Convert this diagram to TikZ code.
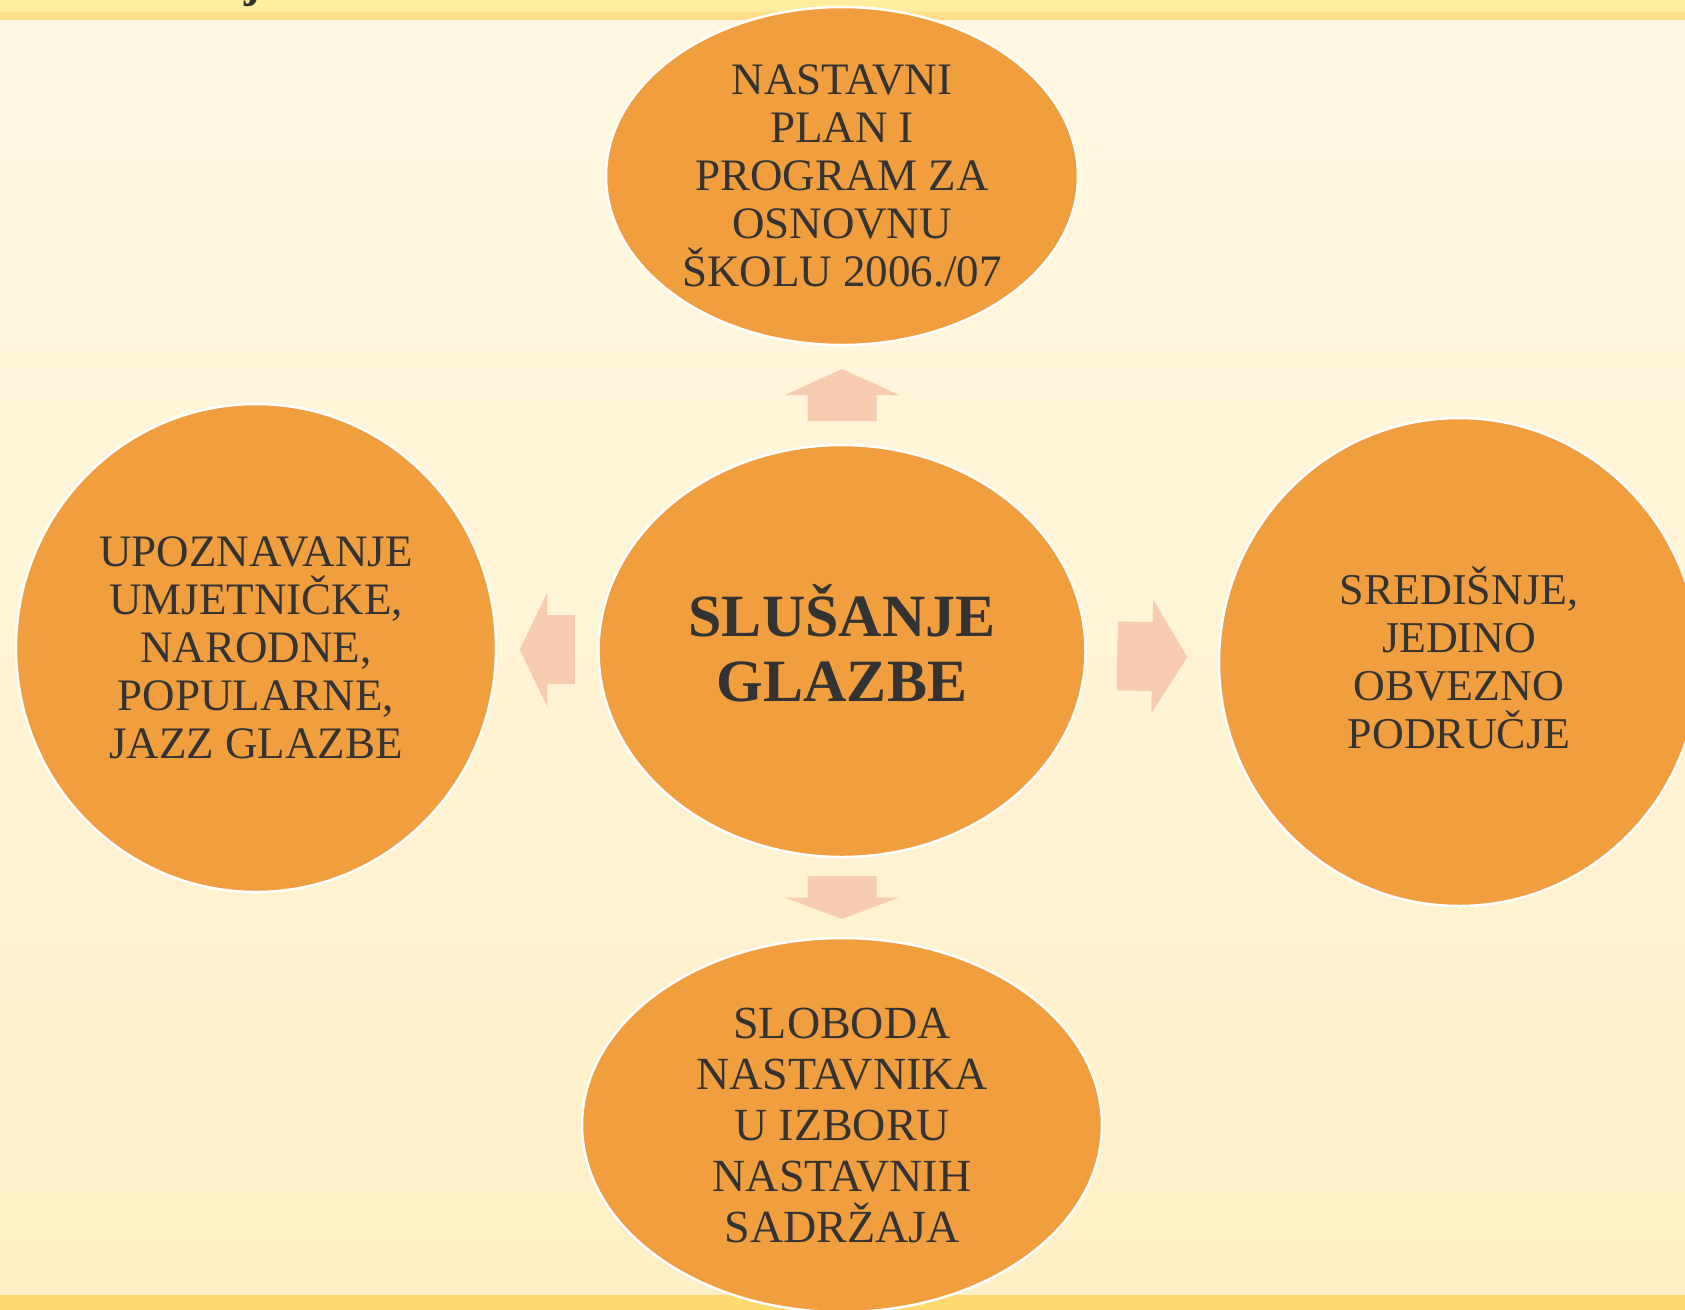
\documentclass[tikz,border=0pt]{standalone}
\usepackage{fontspec}
\setmainfont{Liberation Serif}
\usetikzlibrary{shapes.geometric, calc}
\definecolor{kugla}{HTML}{F19E3E}
\definecolor{strelica}{HTML}{F7CCAF}
\definecolor{tekst}{HTML}{333333}
\definecolor{pozadinaA}{HTML}{FFF8E2}
\definecolor{pozadinaB}{HTML}{FFEFC6}
\definecolor{trakaA}{HTML}{FFEDA0}
\definecolor{trakaB}{HTML}{FFE086}
\definecolor{trakaC}{HTML}{FFD96E}

\begin{document}
\begin{tikzpicture}[x=1pt, y=-1pt,
  kugla/.style={ellipse, fill=kugla, draw=white, line width=2.5pt, inner sep=0pt,
    text=tekst, align=center, font=\fontsize{45}{48}\selectfont},
  strelica/.pic={\fill[strelica] (-#1,-34.5) -- (0,-34.5) -- (0,-57) -- (#1,0)
    -- (0,57) -- (0,34.5) -- (-#1,34.5) -- cycle;}]
  \useasboundingbox (0,0) rectangle (1685,1309);
  \shade[top color=pozadinaA, bottom color=pozadinaB] (0,0) rectangle (1685,1309);
  \fill[trakaA] (0,0) rectangle (1685,12);
  \fill[trakaB] (0,12) rectangle (1685,20);
  \shade[left color=trakaC, middle color=trakaA, right color=trakaC] (0,1295) rectangle (1685,1309);
  \begin{scope}
    \clip (0,0) rectangle (1685,1309);
    \node[anchor=base, text=tekst, font=\fontsize{48}{48}\selectfont\bfseries] (naslov) at (252,-3) {j};
  \end{scope}

  \node[kugla, minimum width=487, minimum height=412,
    font=\fontsize{60}{65}\selectfont\bfseries] (hub) at (842,651)
    {SLUŠANJE\\GLAZBE\rule[-17pt]{0pt}{17pt}};
  \node[kugla, minimum width=472, minimum height=338] (plan) at (842,176)
    {NASTAVNI\\PLAN I\\PROGRAM ZA\\OSNOVNU\\ŠKOLU 2006./07};
  \node[kugla, minimum width=480, minimum height=488] (upoz) at (256,648)
    {UPOZNAVANJE\\UMJETNIČKE,\\NARODNE,\\POPULARNE,\\JAZZ GLAZBE};
  \node[kugla, minimum width=480, minimum height=488, font=\fontsize{44}{48}\selectfont] (sred) at (1459,662)
    {SREDIŠNJE,\\JEDINO\\OBVEZNO\\PODRUČJE\rule[-8pt]{0pt}{8pt}};
  \node[kugla, minimum width=520, minimum height=374, font=\fontsize{46}{51}\selectfont] (slob) at (842,1125)
    {SLOBODA\\NASTAVNIKA\\U IZBORU\\NASTAVNIH\\SADRŽAJA};

  \pic[rotate=90] at ($(hub.north)!.5!(plan.south)$) {strelica=26};
  \pic[rotate=-90] at ($(hub.south)!.5!(slob.north)$) {strelica=21.5};
  \pic[rotate=180] at ($(hub.west)!.5!(upoz.east)$) {strelica=27.5};
  \pic[rotate=-1] at ($(hub.east)!.5!(sred.west)$) {strelica=35};
\end{tikzpicture}
\end{document}
